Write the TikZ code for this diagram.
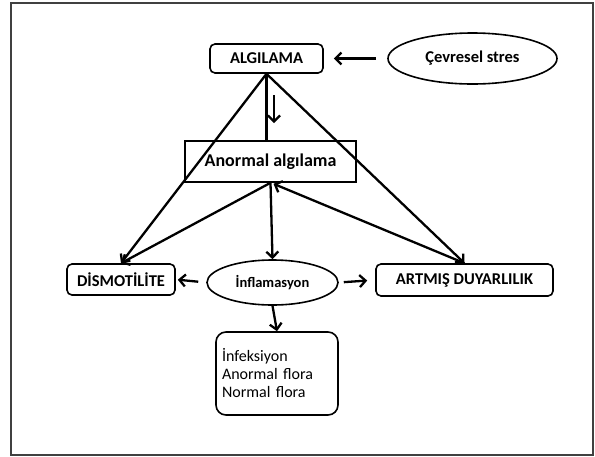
\documentclass[tikz,border=0pt]{standalone}
\usepackage{fontspec}
\setmainfont{Carlito}
\usetikzlibrary{arrows.meta,shapes.geometric,calc}
\begin{document}
\begin{tikzpicture}[x=1pt,y=-1pt,
  box/.style={draw, line width=1.6pt, rounded corners=5pt, inner sep=0pt, font=\bfseries\fontsize{16.5}{19}\selectfont},
  oval/.style={draw, line width=1.6pt, ellipse, inner sep=0pt, font=\bfseries\fontsize{16.5}{19}\selectfont},
  conn/.style={line width=2.3pt, -{Straight Barb[length=6pt,width=12pt,line width=2.3pt]}},
  lineonly/.style={line width=2.3pt}]
\useasboundingbox (0,0) rectangle (595,456);
\draw[line width=1.8pt, draw=black!75] (11,3) rectangle (593,455);
\node[box, minimum width=113pt, minimum height=29pt] (alg) at (266.5,58.5) {ALGILAMA};
\node[oval, minimum width=169pt, minimum height=51pt] (cev) at (472.5,58.5) {Çevresel stres};
\node[draw, line width=1.6pt, inner sep=0pt, minimum width=171pt, minimum height=41pt,
  font=\bfseries\fontsize{18}{21}\selectfont] (ano) at (270.5,161.5) {Anormal algılama};
\node[box, minimum width=108pt, minimum height=31pt] (dis) at (121,279.5) {DİSMOTİLİTE};
\node[oval, minimum width=131pt, minimum height=45pt, font=\bfseries\fontsize{14.5}{17}\selectfont] (inf) at (272.5,282.5) {İnflamasyon};
\node[box, minimum width=177pt, minimum height=32pt] (art) at (464.5,280) {ARTMIŞ DUYARLILIK};
\node[draw, line width=1.6pt, rounded corners=10pt, inner xsep=6pt, inner ysep=0pt,
  text width=110pt, minimum height=83pt, align=left,
  font=\fontsize{16}{18}\selectfont] (lst) at (277,373.5) {İnfeksiyon\\Anormal flora\\Normal flora};
\coordinate (s1) at (274,95);
\coordinate (s2) at (274,123);
\draw[conn, shorten <=11pt, shorten >=10pt] (cev.west) -- (alg.east);
\draw[lineonly] (alg.south) -- (alg.south |- ano.north);
\draw[conn] (s1) -- (s2);
\draw[conn] (alg.south) -- (dis.north);
\draw[conn] (alg.south) -- (art.north);
\draw[conn] (ano.south) -- (dis.north);
\draw[conn] (ano.south) -- (inf.north);
\draw[conn] (art.north) -- ($(ano.south)+(3,1)$);
\draw[conn, shorten <=8pt, shorten >=2pt] (inf.west) -- (dis.east);
\draw[conn, shorten <=5pt, shorten >=8pt] (inf.east) -- (art.west);
\draw[conn] (inf.south) -- (lst.north);
\end{tikzpicture}
\end{document}
